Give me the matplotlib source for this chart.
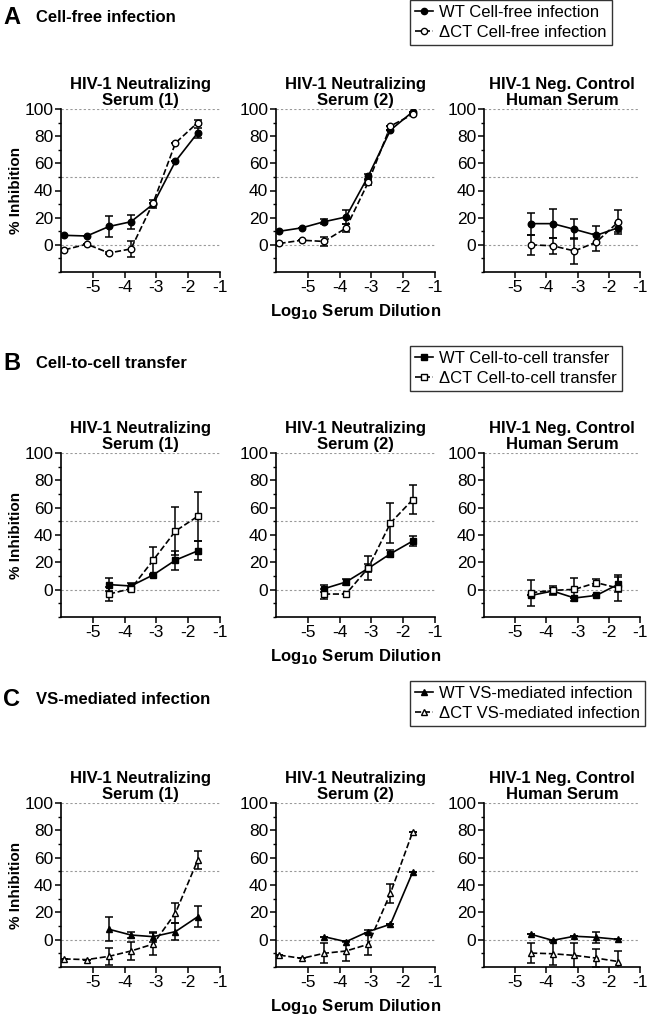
import numpy as np
import matplotlib.pyplot as plt
from matplotlib.lines import Line2D
from matplotlib.ticker import MultipleLocator

plt.rcParams['font.family'] = ['Liberation Sans', 'DejaVu Sans']
plt.rcParams['axes.unicode_minus'] = False

# log10 serum dilutions
x_full = [-5.89, -5.19, -4.49, -3.8, -3.1, -2.4, -1.7]
x_short = [-4.49, -3.8, -3.1, -2.4, -1.7]

# A: cell-free infection
a1_wt = [7, 6.5, 13.5, 17, 30, 61.5, 82.5]
a1_wt_err = [0, 0, 7.5, 5, 3, 0, 3.5]
a1_ct = [-3.7, 0.5, -6, -3, 31, 75, 90]
a1_ct_err = [0, 0, 1, 6, 0, 0, 2]
a2_wt = [10, 12.5, 17, 20.5, 50.5, 84.5, 98]
a2_wt_err = [0, 0, 2, 5, 2, 0, 0]
a2_ct = [1, 3.4, 2.5, 12.3, 46, 87.5, 96]
a2_ct_err = [0, 0, 3, 3, 2, 0, 0]
a3_wt = [15.6, 15.6, 11.4, 7, 12.6]
a3_wt_err = [8, 10.7, 7.4, 6.5, 3.5]
a3_ct = [0, -0.7, -4.5, 2, 16.8]
a3_ct_err = [7.5, 6, 9.5, 6.2, 8.5]

# B: cell-to-cell transfer
b1_wt = [3.7, 2.7, 10.8, 21.6, 28.4]
b1_wt_err = [5, 2.2, 0, 7, 7]
b1_ct = [-3.2, 0.7, 21.6, 42.9, 53.7]
b1_ct_err = [5.3, 1.5, 9.8, 17.8, 18]
b2_wt = [0.7, 5.6, 15.6, 26.3, 35.6]
b2_wt_err = [2.5, 2, 3, 2.5, 3.5]
b2_ct = [-3.2, -3.2, 15.9, 48.8, 65.9]
b2_ct_err = [3.4, 0, 8.5, 14.4, 10.5]
b3_wt = [-4.2, -1, -6.1, -4.2, 3.9]
b3_wt_err = [0, 2, 0, 0, 5.5]
b3_ct = [-2.2, -0.5, 0.2, 5.1, 1.2]
b3_ct_err = [9.4, 3.5, 8.2, 2.5, 9.2]

# C: VS-mediated infection
c1_wt = [7.6, 3.4, 2.2, 5.9, 16.8]
c1_wt_err = [8.7, 2.5, 3.7, 6.1, 7.7]
c1_ct = [-14.1, -14.6, -12.2, -8.3, -3.2, 19.5, 58.3]
c1_ct_err = [0, 0, 6.4, 6.7, 7.9, 7.1, 6.8]
c2_wt = [2.2, -1.5, 5.9, 11.3, 49.5]
c2_wt_err = [0, 0.5, 1, 0, 0]
c2_ct = [-11.3, -13.7, -10, -8.3, -3.4, 34, 79]
c2_ct_err = [0, 0, 7.3, 7, 7.6, 7, 0]
c3_wt = [3.9, -0.5, 2.5, 1.7, 0.2]
c3_wt_err = [0, 0, 0, 3.9, 0]
c3_ct = [-9.8, -10.3, -11.5, -13.5, -16]
c3_ct_err = [7.5, 8.6, 9.4, 6.4, 7.4]

titles = ['HIV-1 Neutralizing\nSerum (1)', 'HIV-1 Neutralizing\nSerum (2)',
          'HIV-1 Neg. Control\nHuman Serum']
sections = [('A', 'Cell-free infection', 'o'),
            ('B', 'Cell-to-cell transfer', 's'),
            ('C', 'VS-mediated infection', '^')]

rows = [
    [(x_full, a1_wt, a1_wt_err, x_full, a1_ct, a1_ct_err),
     (x_full, a2_wt, a2_wt_err, x_full, a2_ct, a2_ct_err),
     (x_short, a3_wt, a3_wt_err, x_short, a3_ct, a3_ct_err)],
    [(x_short, b1_wt, b1_wt_err, x_short, b1_ct, b1_ct_err),
     (x_short, b2_wt, b2_wt_err, x_short, b2_ct, b2_ct_err),
     (x_short, b3_wt, b3_wt_err, x_short, b3_ct, b3_ct_err)],
    [(x_short, c1_wt, c1_wt_err, x_full, c1_ct, c1_ct_err),
     (x_short, c2_wt, c2_wt_err, x_full, c2_ct, c2_ct_err),
     (x_short, c3_wt, c3_wt_err, x_short, c3_ct, c3_ct_err)],
]

W, H = 650, 1019
fig = plt.figure(figsize=(W / 100, H / 100), dpi=100)

# pixel layout: (top, bottom) of each row, (left, width) of each column
row_px = [(109, 272), (453, 617), (803, 967)]
col_px = [(61, 159), (276, 159), (484, 156)]
head_y = [17, 363, 699]
legend_y = [0, 346, 681]

for r, (letter, name, mk) in enumerate(sections):
    top, bot = row_px[r]
    fig.text(3 / W, 1 - head_y[r] / H, letter, fontsize=17, fontweight='bold',
             va='center', ha='left')
    fig.text(36 / W, 1 - head_y[r] / H, name, fontsize=12,
             fontweight='bold', va='center', ha='left')
    for c in range(3):
        left, width = col_px[c]
        ax = fig.add_axes([left / W, 1 - bot / H, width / W, (bot - top) / H])
        xw, yw, ew, xc, yc, ec = rows[r][c]
        for yl in (0, 50, 100):
            ax.axhline(yl, color='0.6', linestyle=(0, (2, 2)), lw=0.8, zorder=0)
        ax.errorbar(xw, yw, yerr=ew, color='black', marker=mk, ms=4.7,
                    mfc='black', lw=1.2, capsize=2.6, elinewidth=1.1,
                    capthick=1.1)
        ax.errorbar(xc, yc, yerr=ec, color='black', marker=mk, ms=4.7,
                    mfc='white', lw=1.2, ls='--', capsize=2.6,
                    elinewidth=1.1, capthick=1.1)
        ax.set_xlim(-6, -1)
        ax.set_ylim(-20, 100)
        ax.set_xticks([-5, -4, -3, -2, -1])
        ax.set_yticks([0, 20, 40, 60, 80, 100])
        ax.yaxis.set_minor_locator(MultipleLocator(10))
        ax.spines['top'].set_visible(False)
        ax.spines['right'].set_visible(False)
        ax.spines['left'].set_linewidth(1.2)
        ax.spines['bottom'].set_linewidth(1.2)
        ax.tick_params(axis='both', which='major', labelsize=12.5, length=4,
                       width=1.1, pad=1.5)
        ax.tick_params(axis='y', which='minor', length=2.5, width=1)
        ax.set_title(titles[c], fontsize=12, fontweight='bold', pad=3,
                     linespacing=1.05)
        if c == 0:
            ax.set_ylabel('% Inhibition', fontsize=11, fontweight='bold',
                          labelpad=1)
        if c == 1:
            ax.set_xlabel(r'Log$_{\mathbf{10}}$ Serum Dilution', fontsize=12,
                          fontweight='bold', labelpad=5)
    handles = [Line2D([], [], color='black', marker=mk, ms=4.5, mfc='black',
                      lw=1.2),
               Line2D([], [], color='black', marker=mk, ms=4.5, mfc='white',
                      lw=1.2, ls='--')]
    labels = ['WT ' + name, '\u0394CT ' + name]
    leg = fig.legend(handles, labels, loc='upper left',
                     bbox_to_anchor=(410 / W, 1 - legend_y[r] / H),
                     fontsize=12, frameon=True, fancybox=False,
                     edgecolor='black', handlelength=1.1, handletextpad=0.35,
                     borderpad=0.3, labelspacing=0.3, borderaxespad=0)
    leg.get_frame().set_linewidth(1.0)

fig.savefig('out.png', dpi=100)
